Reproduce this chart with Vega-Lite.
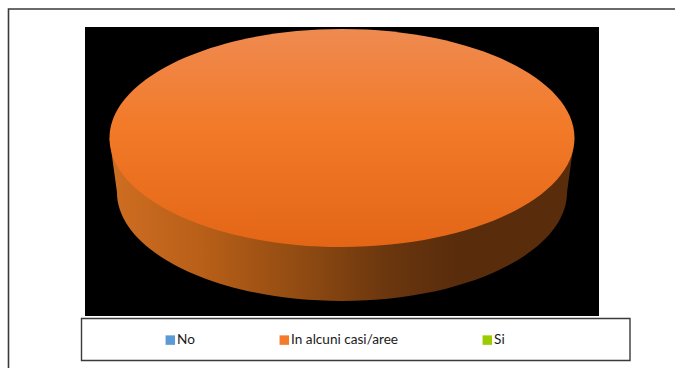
{
  "$schema": "https://vega.github.io/schema/vega-lite/v6.json",
  "width": 514,
  "height": 289,
  "autosize": "none",
  "padding": {"left": 85, "top": 27, "right": 76, "bottom": 52},
  "background": "white",
  "view": {"fill": "black", "stroke": null},
  "data": {"values": [
    {"category": "No", "share": 0},
    {"category": "In alcuni casi/aree", "share": 100},
    {"category": "Si", "share": 0}
  ]},
  "layer": [
    {
      "data": {"values": [{"frame": "outer"}]},
      "mark": {"type": "rect", "fill": null, "stroke": "#3a3a3a", "strokeWidth": 1.6, "clip": false},
      "encoding": {
        "x": {"value": -76.5},
        "x2": {"value": 620},
        "y": {"value": -18},
        "y2": {"value": 360}
      }
    },
    {
      "data": {"values": [{"frame": "legend"}]},
      "mark": {"type": "rect", "fill": null, "stroke": "#3a3a3a", "strokeWidth": 1.4, "clip": false},
      "encoding": {
        "x": {"value": -3.5},
        "x2": {"value": 545},
        "y": {"value": 291.5},
        "y2": {"value": 333.5}
      }
    },
    {
      "mark": {"type": "point", "filled": true, "opacity": 1, "strokeWidth": 0, "size": 0},
      "encoding": {
        "x": {"value": {"expr": "width/2"}},
        "y": {"value": {"expr": "height*0.384"}},
        "color": {
          "field": "category", "type": "nominal",
          "scale": {
            "domain": ["No", "In alcuni casi/aree", "Si"],
            "range": ["#5b9bd5", "#f47b2b", "#9bcb00"]
          },
          "legend": {
            "title": null, "orient": "none", "legendX": 78.5, "legendY": 306,
            "direction": "horizontal", "columns": 3, "gridAlign": "each", "columnPadding": 82, "padding": 0,
            "symbolType": "square", "symbolSize": 90, "symbolStrokeWidth": 0, "symbolOpacity": 1,
            "labelFont": "Lato", "labelFontSize": 13.6, "labelColor": "#1a1a1a", "labelOffset": 0, "labelLimit": 300
          }
        }
      }
    },
    {
      "mark": {
        "type": "point", "filled": true, "opacity": 1, "strokeWidth": 0,
        "shape": "M-1 0 L-0.968 0.2323 C-0.968 0.4912 -0.5346 0.7011 0 0.7011 C0.5346 0.7011 0.968 0.4912 0.968 0.2323 L1 0 Z",
        "color": {
          "gradient": "linear", "x1": 0, "y1": 0, "x2": 1, "y2": 0,
          "stops": [
            {"offset": 0, "color": "#cf6e22"},
            {"offset": 0.2, "color": "#b85f18"},
            {"offset": 0.4, "color": "#934c12"},
            {"offset": 0.6, "color": "#6a360e"},
            {"offset": 0.75, "color": "#592c0c"},
            {"offset": 1, "color": "#592c0c"}
          ]
        }
      },
      "encoding": {
        "x": {"value": {"expr": "width/2"}},
        "y": {"value": {"expr": "height*0.384"}},
        "size": {"field": "share", "type": "quantitative", "scale": {"domain": [0, 100], "range": [0, 216225]}, "legend": null}
      }
    },
    {
      "mark": {
        "type": "point", "filled": true, "opacity": 1, "strokeWidth": 0,
        "shape": "M-1 0 C-1 -0.2589 -0.5523 -0.4688 0 -0.4688 C0.5523 -0.4688 1 -0.2589 1 0 C1 0.2589 0.5523 0.4688 0 0.4688 C-0.5523 0.4688 -1 0.2589 -1 0 Z",
        "color": {
          "gradient": "linear", "x1": 0, "y1": 0, "x2": 0, "y2": 1,
          "stops": [
            {"offset": 0, "color": "#ef8a50"},
            {"offset": 0.45, "color": "#f27a28"},
            {"offset": 1, "color": "#e36617"}
          ]
        }
      },
      "encoding": {
        "x": {"value": {"expr": "width/2"}},
        "y": {"value": {"expr": "height*0.384"}},
        "size": {"field": "share", "type": "quantitative", "scale": {"domain": [0, 100], "range": [0, 216225]}, "legend": null}
      }
    }
  ]
}
